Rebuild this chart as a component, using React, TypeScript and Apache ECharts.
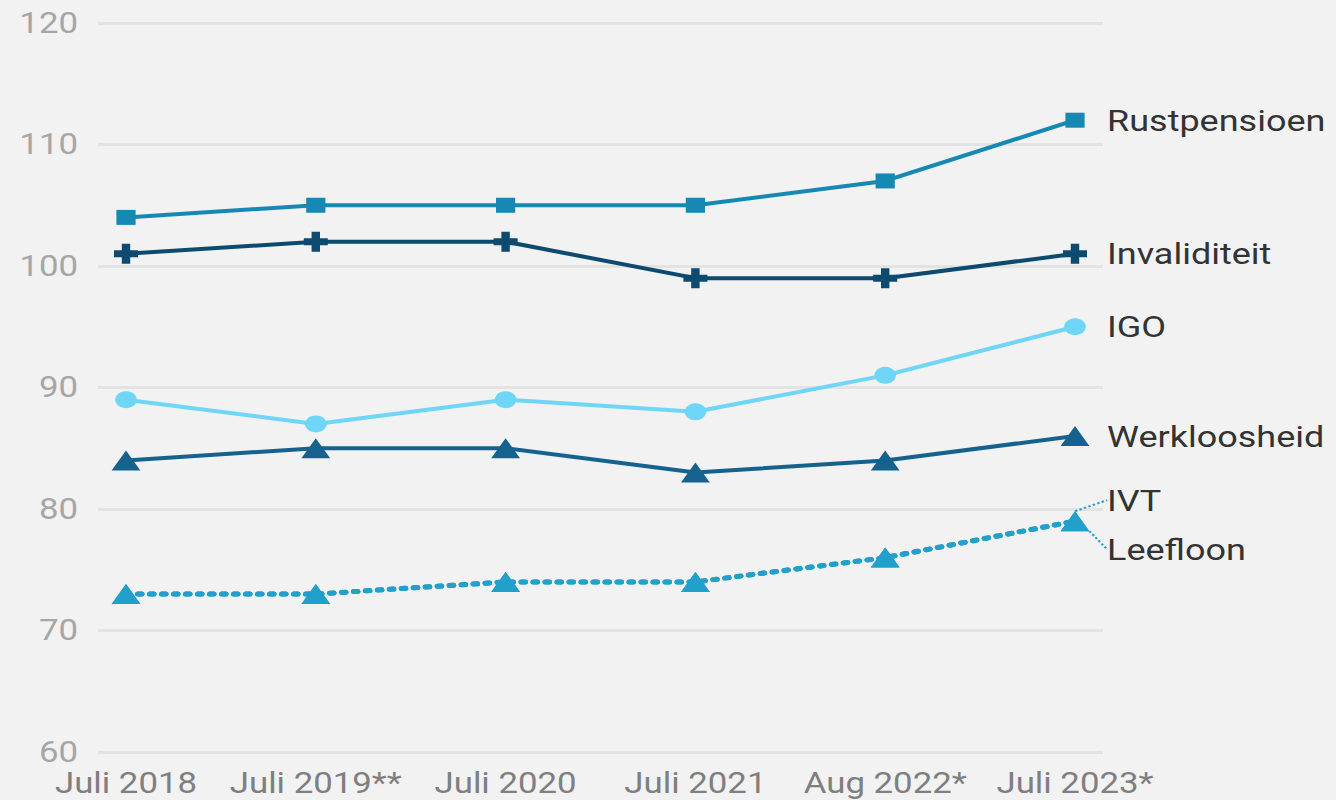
import React, { useEffect, useRef } from "react";
import * as echarts from "echarts";

const categories = ["Juli 2018", "Juli 2019**", "Juli 2020", "Juli 2021", "Aug 2022*", "Juli 2023*"];
const rustpensioen = [104, 105, 105, 105, 107, 112];
const invaliditeit = [101, 102, 102, 99, 99, 101];
const igo = [89, 87, 89, 88, 91, 95];
const werkloosheid = [84, 85, 85, 83, 84, 86];
const ivt = [73, 73, 74, 74, 76, 79];
const leefloon = [73, 73, 74, 74, 76, 79];

const SX = 1.2; // the reference is stretched horizontally
const W = 1336 / SX;
const PLUS = "path://M6.5,0H13.5V6.5H20V13.5H13.5V20H6.5V13.5H0V6.5H6.5Z";
const FONT = "Roboto";

function lastLabeled(values: number[], name: string, distance: number) {
  return values.map((v, i) =>
    i === values.length - 1
      ? {
          value: v,
          label: {
            show: true,
            position: "right",
            distance,
            formatter: name,
            color: "#333",
            fontSize: 30,
            fontFamily: FONT,
          },
        }
      : v
  );
}

export default function App() {
  const ref = useRef<HTMLDivElement>(null);
  useEffect(() => {
    document.body.style.margin = "0";
    document.body.style.background = "#f2f2f2";
    document.body.style.overflow = "hidden";
    const chart = echarts.init(ref.current!, null, { renderer: "svg" });
    const mk = (name: string, data: number[], color: string, symbol: string, size: number[], dotted: boolean, extra: any = {}) => ({
      type: "line",
      name,
      xAxisIndex: 1,
      yAxisIndex: 1,
      data: lastLabeled(data, name, 26.7 - size[0] / 2),
      symbol,
      symbolSize: size,
      showAllSymbol: true,
      itemStyle: { color },
      lineStyle: { color, width: dotted ? 5 : 4, type: dotted ? [3, 7] : "solid", cap: "round" },
      ...extra,
    });
    chart.setOption({
      animation: false,
      backgroundColor: "#f2f2f2",
      grid: [
        { left: 98 / SX, top: 23, width: 1005 / SX, height: 729 },
        { left: 126 / SX, top: 23, width: 949 / SX, height: 729 },
      ],
      xAxis: [
        { type: "value", gridIndex: 0, min: 0, max: 1, show: false },
        {
          type: "category",
          gridIndex: 1,
          data: categories,
          boundaryGap: false,
          axisLine: { show: false },
          axisTick: { show: false },
          axisLabel: { color: "#7f7f7f", fontSize: 29, lineHeight: 24, fontFamily: FONT, margin: 19, interval: 0 },
        },
      ],
      yAxis: [
        {
          type: "value",
          gridIndex: 0,
          min: 60,
          max: 120,
          interval: 10,
          axisLine: { show: false },
          axisTick: { show: false },
          axisLabel: { color: "#a6a6a6", fontSize: 29, lineHeight: 22, fontFamily: FONT, margin: 20 / SX },
          splitLine: { lineStyle: { color: "#e3e3e3", width: 3 } },
        },
        { type: "value", gridIndex: 1, min: 60, max: 120, show: false },
      ],
      series: [
        mk("Leefloon", leefloon, "#21a0cc", "triangle", [24, 20], true, {
          labelLayout: { dy: 28 },
          labelLine: { show: true, lineStyle: { color: "#21a0cc", type: "dotted", width: 2 } },
        }),
        mk("IVT", ivt, "#21a0cc", "triangle", [24, 20], true, {
          labelLayout: { dy: -21 },
          labelLine: { show: true, lineStyle: { color: "#21a0cc", type: "dotted", width: 2 } },
        }),
        mk("Werkloosheid", werkloosheid, "#15628f", "triangle", [24, 20], false),
        mk("IGO", igo, "#6fd6f7", "circle", [18, 17], false),
        mk("Invaliditeit", invaliditeit, "#0d4a6f", PLUS, [20, 20], false),
        mk("Rustpensioen", rustpensioen, "#1589b4", "rect", [16, 15], false),
      ],
    });
    return () => chart.dispose();
  }, []);
  return (
    <div
      ref={ref}
      style={{ width: W, height: 800, transform: `scaleX(${SX})`, transformOrigin: "0 0" }}
    />
  );
}
